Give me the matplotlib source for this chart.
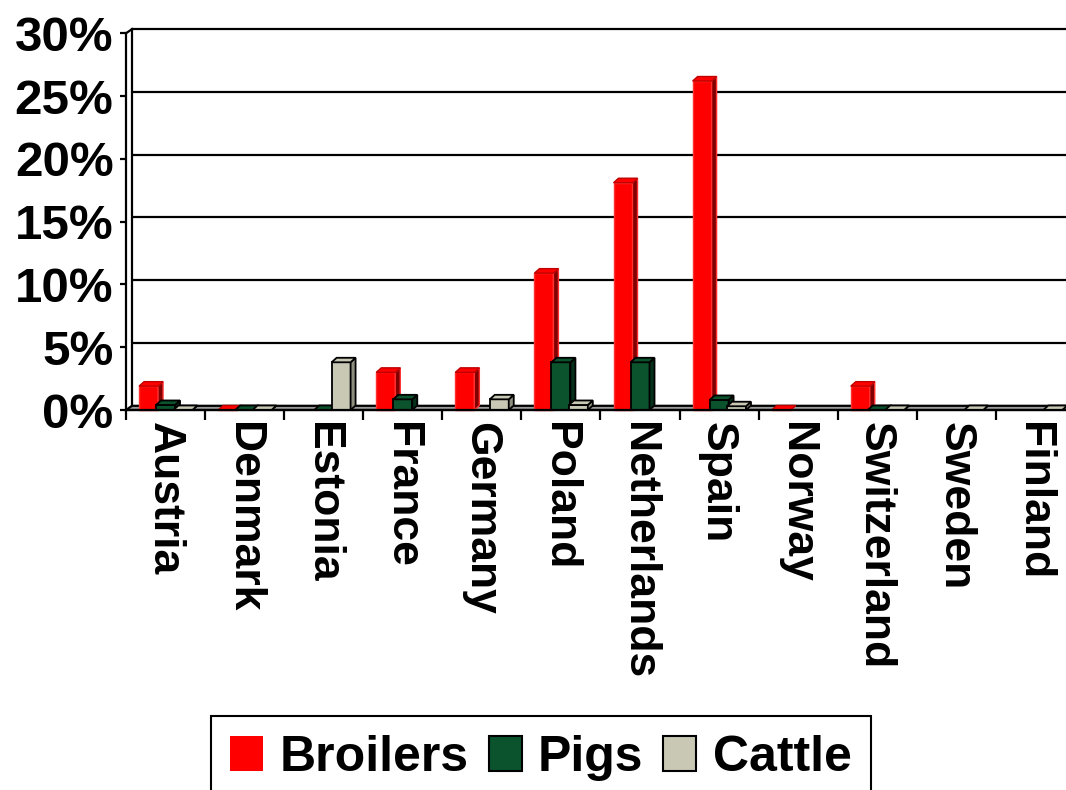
import numpy as np
import matplotlib
matplotlib.use("Agg")
import matplotlib.pyplot as plt
from matplotlib.patches import Polygon, Patch

# ---------------- data ----------------
countries = ["Austria", "Denmark", "Estonia", "France", "Germany", "Poland",
             "Netherlands", "Spain", "Norway", "Switzerland", "Sweden", "Finland"]
nan = np.nan
broilers = [1.9, 0.0, nan, 3.0, 3.0, 10.9, 18.1, 26.2, 0.0, 1.9, nan, nan]
pigs     = [0.4, 0.0, 0.0, 0.85, nan, 3.8, 3.8, 0.8, nan, 0.0, nan, nan]
cattle   = [0.0, 0.0, 3.8, nan, 0.85, 0.4, nan, 0.3, nan, 0.0, 0.0, 0.0]
series_names = ["Broilers", "Pigs", "Cattle"]
y_ticks = [0, 5, 10, 15, 20, 25, 30]
y_tick_labels = ["0%", "5%", "10%", "15%", "20%", "25%", "30%"]

# ---------------- style ----------------
front_colors = ["#FF0000", "#0B532D", "#C8C8B4"]
side_colors  = ["#800000", "#05301A", "#8E8E7E"]
edge_colors  = ["#FF3030", "black", "black"]
offsets = [0.285, 0.50, 0.72]
bar_w = 0.24

plt.rcParams['font.family'] = ['Liberation Sans', 'DejaVu Sans']
plt.rcParams['font.weight'] = 'bold'

W, H = 1066, 790
fig = plt.figure(figsize=(W / 100, H / 100), dpi=100)
n = len(countries)
cat_px = 79.08
left_px, bottom_px, top_px = 126, 410, 33.3
ax = fig.add_axes([left_px / W, (H - bottom_px) / H, n * cat_px / W, (bottom_px - top_px) / H])
ax.set_xlim(0, n)
ax.set_ylim(0, 30)

# pixel -> data conversion for depth offsets
def px_to_data(dx, dy):
    inv = ax.transData.inverted()
    p0 = ax.transData.transform((0, 0))
    p1 = inv.transform((p0[0] + dx * fig.dpi / 100, p0[1] + dy * fig.dpi / 100))
    return p1[0], p1[1]

wdx, wdy = px_to_data(6, 4.2)
bdx, bdy = px_to_data(5, 4.5)

# back wall gridlines
for yv in y_ticks[1:]:
    ax.plot([wdx, n + wdx], [yv + wdy, yv + wdy], color="black", lw=1.6,
            clip_on=False, zorder=1, solid_capstyle="butt")
# back wall left edge and connectors
ax.plot([wdx, wdx], [wdy, 30 + wdy], color="black", lw=1.6, clip_on=False, zorder=1)
ax.plot([0, wdx], [30, 30 + wdy], color="black", lw=1.6, clip_on=False, zorder=1)

# floor
floor = Polygon([(0, 0), (n, 0), (n + wdx, wdy), (wdx, wdy)], closed=True,
                facecolor="#9A9A9A", edgecolor="black", lw=1.6, clip_on=False, zorder=2)
ax.add_patch(floor)

# bars
for s, vals in enumerate([broilers, pigs, cattle]):
    z = 3 + s
    for i, v in enumerate(vals):
        if np.isnan(v):
            continue
        xc = i + offsets[s]
        x0 = xc - bar_w / 2
        x1 = xc + bar_w / 2
        lw = 1.0 if s == 0 else 1.3
        ax.bar(xc, v, bar_w, color=front_colors[s], edgecolor=edge_colors[s],
               linewidth=lw, zorder=z, clip_on=False)
        side = Polygon([(x1, 0), (x1 + bdx, bdy), (x1 + bdx, v + bdy), (x1, v)], closed=True,
                       facecolor=side_colors[s], edgecolor=edge_colors[s], lw=lw,
                       zorder=z, clip_on=False)
        top = Polygon([(x0, v), (x1, v), (x1 + bdx, v + bdy), (x0 + bdx, v + bdy)], closed=True,
                      facecolor=front_colors[s],
                      edgecolor=("#C00000" if s == 0 else "black"), lw=lw,
                      zorder=z, clip_on=False)
        ax.add_patch(side)
        ax.add_patch(top)

# axes styling
for sp in ["top", "right"]:
    ax.spines[sp].set_visible(False)
ax.spines["left"].set_linewidth(1.6)
ax.spines["bottom"].set_linewidth(1.6)
ax.spines["left"].set_zorder(8)
ax.spines["bottom"].set_zorder(8)

ax.set_yticks(y_ticks)
ax.set_yticklabels(y_tick_labels, fontsize=35.5, fontweight="bold")
ax.tick_params(axis="y", length=4, width=1.6, pad=5)

ax.set_xticks(np.arange(0, n + 1))
ax.set_xticklabels([])
ax.tick_params(axis="x", which="major", length=7.5, width=1.6)
ax.set_xticks(np.arange(n) + 0.48, minor=True)
ax.set_xticklabels(countries, minor=True, rotation=270, fontsize=32, fontweight="bold")
ax.tick_params(axis="x", which="minor", length=0, pad=9)

# legend
handles = [Patch(facecolor=front_colors[0], edgecolor=front_colors[0], lw=0),
           Patch(facecolor=front_colors[1], edgecolor="black", lw=1.5),
           Patch(facecolor=front_colors[2], edgecolor="black", lw=1.5)]
leg = fig.legend(handles, series_names, loc="upper left",
                 bbox_to_anchor=(211 / W, 1 - 716 / H), bbox_transform=fig.transFigure,
                 ncol=3, prop={"weight": "bold", "size": 36},
                 frameon=True, fancybox=False, shadow=False, borderaxespad=0,
                 borderpad=0.38, handlelength=0.66, handleheight=0.72,
                 handletextpad=0.33, columnspacing=0.4)
leg.get_frame().set_edgecolor("black")
leg.get_frame().set_linewidth(1.5)
leg.get_frame().set_alpha(1)

fig.savefig("out.png", dpi=100)
